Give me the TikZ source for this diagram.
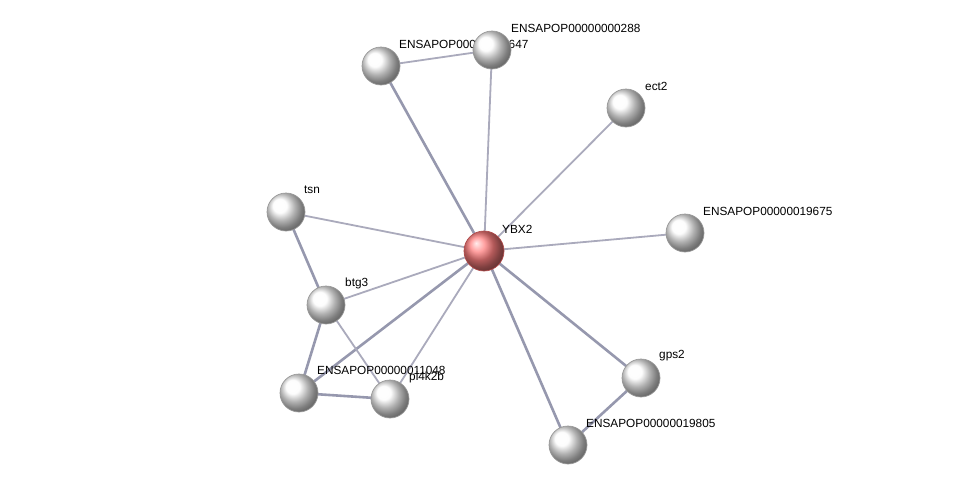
\documentclass[tikz,border=0pt]{standalone}
\usepackage{fontspec}
\setmainfont{Liberation Sans}
\begin{document}
\begin{tikzpicture}[x=1pt,y=-1pt,
  prot/.style={circle,minimum size=38pt,inner sep=0pt,draw=gray!80,line width=0.7pt,shading=ball,ball color=gray!2},
  hub/.style={circle,minimum size=40pt,inner sep=0pt,draw=red!40!gray,line width=0.7pt,shading=ball,ball color=red!50},
  lbl/.style={anchor=west,inner sep=0pt,font=\fontsize{11.8}{14}\selectfont},
  thin/.style={draw={rgb,255:red,170;green,170;blue,188},line width=1.8pt},
  thick/.style={draw={rgb,255:red,150;green,152;blue,174},line width=2.6pt}]
\useasboundingbox (0,0) rectangle (975,490);
\fill[white] (0,0) rectangle (975,490);
% coordinates
\coordinate (cY) at (484,251);
\coordinate (cA) at (381,66);
\coordinate (cB) at (492,50);
\coordinate (cC) at (626,108);
\coordinate (cD) at (685,233);
\coordinate (cE) at (286,212);
\coordinate (cF) at (326,305);
\coordinate (cG) at (299,393);
\coordinate (cH) at (390,399);
\coordinate (cI) at (641,378);
\coordinate (cJ) at (568,445);
% edges
\draw[thin] (cA) -- (cB);
\draw[thick] (cY) -- (cA);
\draw[thin] (cY) -- (cB);
\draw[thin] (cY) -- (cC);
\draw[thin] (cY) -- (cD);
\draw[thin] (cY) -- (cE);
\draw[thin] (cY) -- (cF);
\draw[thick] (cY) -- (cG);
\draw[thin] (cY) -- (cH);
\draw[thick] (cY) -- (cI);
\draw[thick] (cY) -- (cJ);
\draw[thick] (cE) -- (cF);
\draw[thick] (cF) -- (cG);
\draw[thin] (cF) -- (cH);
\draw[thick] (cG) -- (cH);
\draw[thick] (cI) -- (cJ);
% nodes and labels
\node[prot] (A) at (cA) {};
\node[lbl] (lA) at ([shift={(18,-22)}]cA) {ENSAPOP00000000647};
\node[prot] (B) at (cB) {};
\node[lbl] (lB) at ([shift={(19,-22)}]cB) {ENSAPOP00000000288};
\node[prot] (C) at (cC) {};
\node[lbl] (lC) at ([shift={(19,-22)}]cC) {ect2};
\node[prot] (D) at (cD) {};
\node[lbl] (lD) at ([shift={(18,-22)}]cD) {ENSAPOP00000019675};
\node[prot] (E) at (cE) {};
\node[lbl] (lE) at ([shift={(18,-22)}]cE) {tsn};
\node[prot] (F) at (cF) {};
\node[lbl] (lF) at ([shift={(19,-22)}]cF) {btg3};
\node[prot] (G) at (cG) {};
\node[lbl] (lG) at ([shift={(18,-23)}]cG) {ENSAPOP00000011048};
\node[prot] (H) at (cH) {};
\node[lbl] (lH) at ([shift={(19,-22)}]cH) {pi4k2b};
\node[prot] (I) at (cI) {};
\node[lbl] (lI) at ([shift={(18,-22)}]cI) {gps2};
\node[prot] (J) at (cJ) {};
\node[lbl] (lJ) at ([shift={(18,-22)}]cJ) {ENSAPOP00000019805};
\node[hub] (Y) at (cY) {};
\node[lbl] (lY) at ([shift={(18,-22)}]cY) {YBX2};
\end{tikzpicture}
\end{document}
